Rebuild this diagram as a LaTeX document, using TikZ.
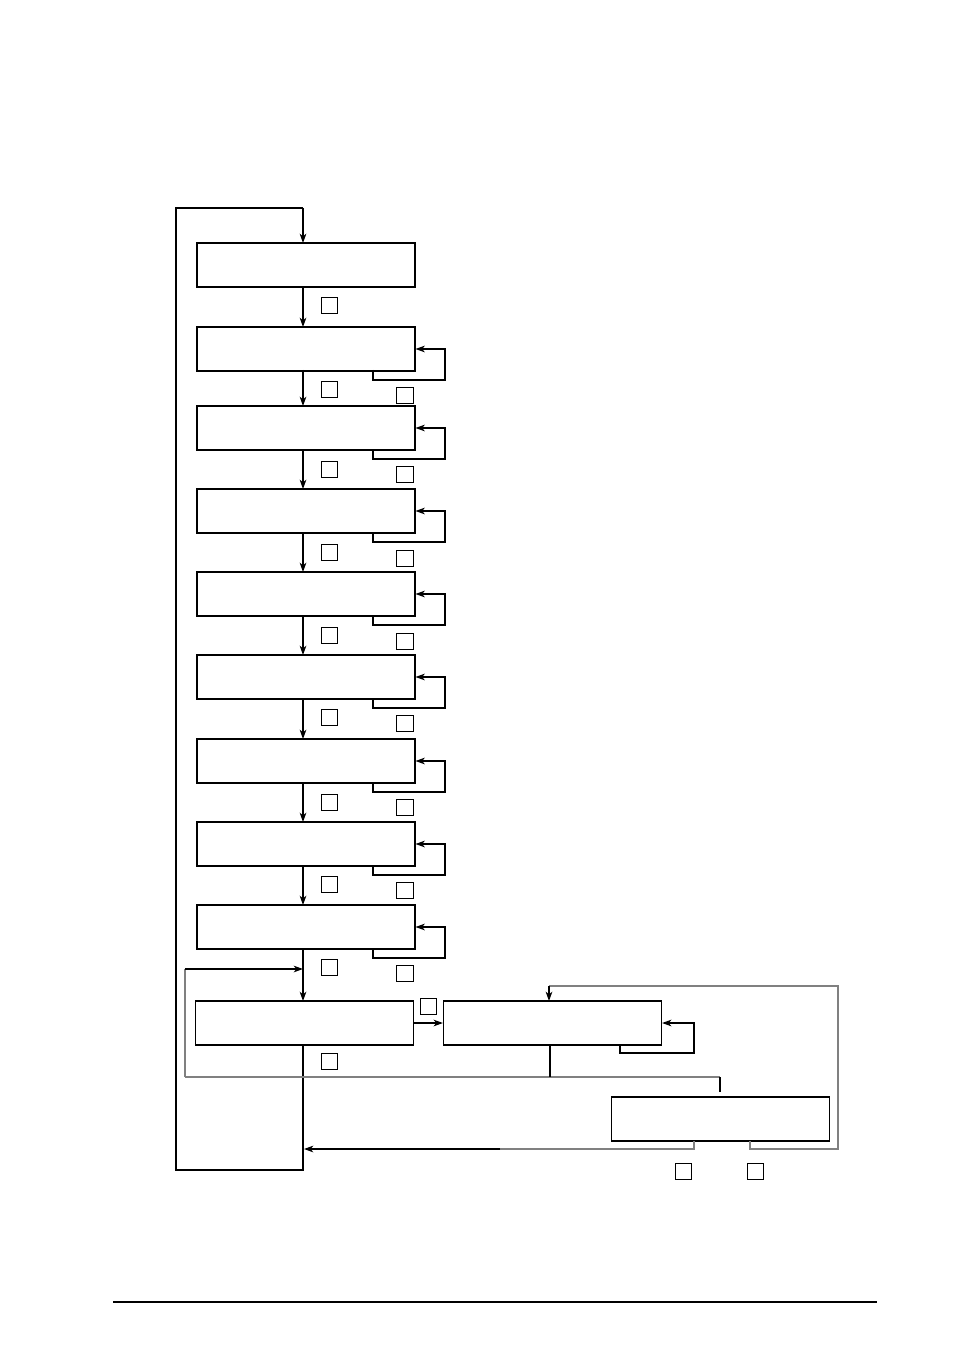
\documentclass[tikz,border=0pt]{standalone}
\usetikzlibrary{arrows.meta}
\begin{document}
\begin{tikzpicture}[x=0.75pt,y=-0.75pt,
  box/.style={draw,line width=0.9pt,minimum width=163.5pt,minimum height=33pt,inner sep=0pt},
  sq/.style={draw,line width=0.8pt,minimum size=12.5pt,inner sep=0pt},
  ln/.style={line width=0.9pt},
  gl/.style={line width=1pt,draw=gray},
  arr/.style={-{Stealth[length=7pt,width=5pt,inset=2pt]}}]
\useasboundingbox (0,0) rectangle (954,1351);
\foreach \i/\y in {1/243,2/327,3/406,4/489,5/572,6/655,7/739,8/822,9/905}{
  \node[box] (b\i) at (306,\y+22) {};
}
\node[box] (b10) at (304.5,1023) {};
\node[box] (b11) at (552.5,1023) {};
\node[box] (b12) at (720.5,1119) {};
% left squares
\foreach \y [count=\k] in {297,381,461,544,627,709,794,876,959,1053}{
  \node[sq] (s\k) at (329.5,\y+8.5) {};
}
\foreach \y [count=\k] in {387,466,550,633,715,799,882,965}{
  \node[sq] (r\k) at (405,\y+8.5) {};
}
\node[sq] (t1) at (428.5,1006.5) {};
\node[sq] (u1) at (683.5,1171.5) {};
\node[sq] (u2) at (755.5,1171.5) {};
% main vertical
\coordinate (topc) at (303,208);
\draw[ln,arr] (topc) -- (303,243);
\draw[ln] (303,1045) -- (303,1170) -- (176,1170) -- (176,208) -- (topc);
\foreach \i/\j/\ya/\yb in {1/2/287/327,2/3/370/406,3/4/450/489,4/5/533/572,5/6/616/655,6/7/699/739,7/8/783/822,8/9/866/905,9/10/949/1001}{
  \draw[ln,arr] (303,\ya) -- (303,\yb);
}
% self loops
\foreach \i/\y in {2/327,3/406,4/489,5/572,6/655,7/739,8/822,9/905}{
  \draw[ln,arr] (373,\y+43) -- (373,\y+53) -- (445,\y+53) -- (445,\y+22) -- (415.5,\y+22);
}
\draw[gl] (185,1077) -- (185,969);
\draw[ln,arr] (185,969) -- (303,969);
\draw[ln,arr] (b10.east) -- (b11.west);
\draw[ln,arr] (620,1045) -- (620,1053) -- (694,1053) -- (694,1023) -- (b11.east);
\draw[gl] (185,1077) -- (720,1077);
\draw[ln] (550,1045) -- (550,1077);
\draw[ln] (720,1077) -- (720,1092);
\draw[gl] (694,1141) -- (694,1149) -- (500,1149);
\draw[ln,arr] (500,1149) -- (304,1149);
\draw[gl] (750,1141) -- (750,1149) -- (838,1149) -- (838,986) -- (549,986);
\draw[ln,arr] (549,986) -- (549,1001);
\draw[line width=0.8pt] (113,1302) -- (877,1302);
\end{tikzpicture}
\end{document}
